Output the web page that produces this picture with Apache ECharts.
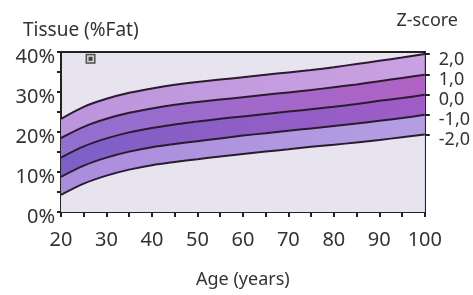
<!DOCTYPE html>
<html><head><meta charset="utf-8">
<script src="https://cdn.jsdelivr.net/npm/echarts@6/dist/echarts.min.js"></script>
<style>html,body{margin:0;padding:0;background:#fff}#c{width:473px;height:295px}</style>
</head><body><div id="c"></div>
<script>
var ages = [20,25,30,35,40,45,50,55,60,65,70,75,80,85,90,95,100];
var zPlus2  = [23.3,26.3,28.3,29.8,30.9,31.8,32.5,33.1,33.7,34.3,34.9,35.5,36.2,37.0,37.8,38.6,39.5];
var zPlus1  = [18.5,21.3,23.3,24.8,25.9,26.8,27.5,28.1,28.7,29.3,29.9,30.5,31.2,31.9,32.7,33.5,34.3];
var zZero   = [13.6,16.4,18.4,19.9,21.0,21.9,22.6,23.3,23.9,24.5,25.1,25.7,26.3,27.0,27.8,28.5,29.3];
var zMinus1 = [8.8,11.6,13.6,15.1,16.2,17.0,17.7,18.4,19.1,19.7,20.3,20.9,21.5,22.1,22.8,23.5,24.3];
var zMinus2 = [4.3,7.1,9.1,10.6,11.7,12.5,13.2,13.9,14.5,15.1,15.7,16.3,16.8,17.4,18.0,18.7,19.4];
var zLabels = ['2,0','1,0','0,0','-1,0','-2,0'];
var patient = [[26.5,38.3]];

var curves = [zPlus2,zPlus1,zZero,zMinus1,zMinus2];
var fills = [['#bc94dc','#caa2e2'],['#9070d0','#b062c4'],['#7c60c6','#a05cc6'],['#aa8cdc','#b49ee2'],['#e7e3ef','#e7e3ef']];
var endVals = curves.map(function(c){return c[c.length-1];});

function grad(a,b){return new echarts.graphic.LinearGradient(0,0,1,0,[{offset:0,color:a},{offset:1,color:b}]);}
var series = curves.map(function(c,i){
  return {type:'line',xAxisIndex:0,yAxisIndex:0,data:ages.map(function(a,j){return [a,c[j]];}),
    smooth:0.3,symbol:'none',lineStyle:{color:'#2a1c2e',width:2},
    areaStyle:{color:grad(fills[i][0],fills[i][1]),opacity:1,origin:'start'},z:2+i,silent:true};
});
series.push({type:'scatter',data:patient,symbol:'rect',symbolSize:10,itemStyle:{color:'#2a2a2a'},z:20});
series.push({type:'scatter',data:patient,symbol:'rect',symbolSize:7,itemStyle:{color:'#f4f4f4'},z:21});
series.push({type:'scatter',data:patient,symbol:'rect',symbolSize:4,itemStyle:{color:'#222'},z:22});

var F = 'Noto Sans';
var chart = echarts.init(document.getElementById('c'),null,{renderer:'canvas'});
chart.setOption({
  animation:false,
  backgroundColor:'#fff',
  grid:{left:61,right:47,top:52,bottom:83,show:true,backgroundColor:'#e7e3ef',borderColor:'#222',borderWidth:2},
  title:[{text:'Tissue (%Fat)',left:18,top:16,textStyle:{fontWeight:'normal',color:'#333',fontFamily:F,fontSize:19}},
         {text:'Z-score',right:10,top:7,textStyle:{fontWeight:'normal',color:'#333',fontFamily:F,fontSize:18}}],
  xAxis:{type:'value',min:20,max:100,interval:10,
    name:'Age (years)',nameLocation:'middle',nameGap:59,nameTextStyle:{color:'#333',fontFamily:F,fontSize:18},
    axisLine:{lineStyle:{color:'#222',width:2}},
    axisTick:{length:5,lineStyle:{color:'#222',width:2}},
    minorTick:{show:true,splitNumber:2,length:5,lineStyle:{color:'#222',width:2}},
    axisLabel:{margin:18,fontSize:20,color:'#333',fontFamily:F},
    splitLine:{show:false}},
  yAxis:[{type:'value',min:0,max:40,interval:10,
    axisLine:{show:true,lineStyle:{color:'#222',width:2}},
    axisTick:{show:true,length:4,lineStyle:{color:'#222',width:2}},
    minorTick:{show:true,splitNumber:2,length:4,lineStyle:{color:'#222',width:2}},
    axisLabel:{color:'#333',fontFamily:F,fontSize:20,margin:6,verticalAlign:'top',lineHeight:10,formatter:'{value}%'},
    splitLine:{show:false}},
   {type:'value',min:0,max:40,position:'right',
    axisLine:{show:true,lineStyle:{color:'#222',width:2}},
    axisTick:{show:true,length:5,customValues:endVals,lineStyle:{color:'#222',width:2}},
    axisLabel:{color:'#333',fontFamily:F,fontSize:18,margin:14,verticalAlign:'top',lineHeight:11,customValues:endVals,
      formatter:function(v){var i=endVals.indexOf(v);return i>=0?zLabels[i]:'';}},
    splitLine:{show:false}}],
  series:series
});
</script></body></html>
